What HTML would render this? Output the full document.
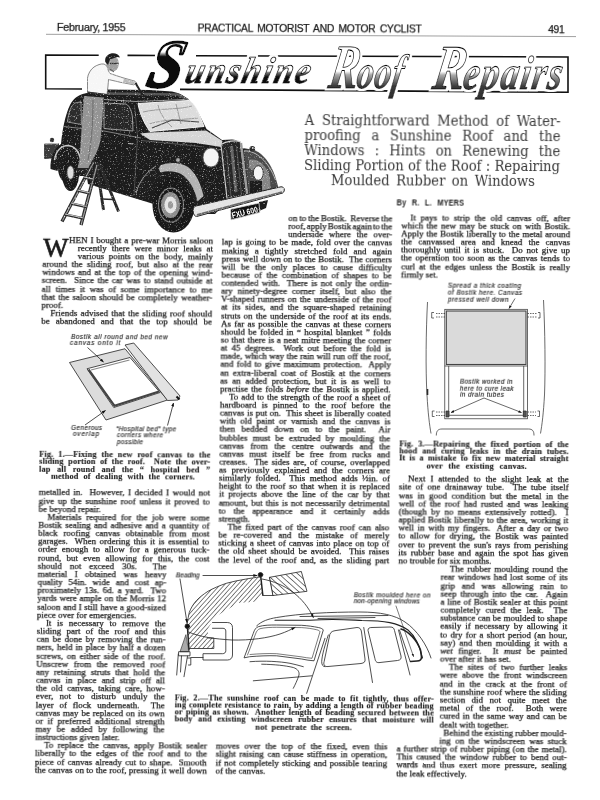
<!DOCTYPE html>
<html><head><meta charset="utf-8"><title>Sunshine Roof Repairs</title>
<style>
html,body{margin:0;padding:0;background:#fff;}
body{width:600px;height:800px;overflow:hidden;position:relative;}
#page{position:absolute;left:0;top:0;width:600px;height:800px;will-change:transform;}
.l{position:absolute;white-space:nowrap;-webkit-text-stroke:0.25px #1a1a1a;}
svg{position:absolute;left:0;top:0;overflow:visible;will-change:transform;}
</style></head><body>

<svg width="600" height="800" viewBox="0 0 600 800">
<defs>
<linearGradient id="chrome" gradientUnits="userSpaceOnUse" x1="0" y1="-33.400" x2="0" y2="8.100">
<stop offset="0" stop-color="#fff"/><stop offset="0.52" stop-color="#fff"/><stop offset="0.56" stop-color="#777"/><stop offset="0.66" stop-color="#111"/><stop offset="1" stop-color="#111"/>
</linearGradient>
<linearGradient id="chrome2" x1="0" y1="0" x2="0" y2="1">
<stop offset="0" stop-color="#fff"/><stop offset="0.57" stop-color="#fff"/><stop offset="0.62" stop-color="#aaa"/><stop offset="0.78" stop-color="#3a3a3a"/><stop offset="1" stop-color="#2a2a2a"/>
</linearGradient>
<linearGradient id="chromeS" gradientUnits="userSpaceOnUse" x1="0" y1="-56.400" x2="0" y2="18.900"><stop offset="0" stop-color="#fff"/><stop offset="0.34" stop-color="#fff"/><stop offset="0.4" stop-color="#111"/><stop offset="1" stop-color="#111"/></linearGradient>
<filter id="halo" x="-5%" y="-10%" width="110%" height="120%"><feMorphology in="SourceAlpha" operator="dilate" radius="1.500" result="d"/><feFlood flood-color="#fff"/><feComposite in2="d" operator="in" result="h"/><feMerge><feMergeNode in="h"/><feMergeNode in="SourceGraphic"/></feMerge></filter>
<pattern id="hatch" width="3.300" height="3.300" patternUnits="userSpaceOnUse" patternTransform="rotate(-48)"><rect width="3.300" height="3.300" fill="#fff"/><rect width="3.300" height="0.650" fill="#444"/></pattern>
<pattern id="hatch2" width="4.200" height="4.200" patternUnits="userSpaceOnUse" patternTransform="rotate(42)"><rect width="4.200" height="4.200" fill="#fff"/><rect width="4.200" height="0.700" fill="#444"/></pattern>
</defs>
<!-- header rule -->
<line x1="46" y1="34.3" x2="576" y2="36.6" stroke="#777" stroke-width="0.7"/>
<!-- title box -->
<path d="M98.700 55.200 L45.700 55 L45.700 88.800 L82 89 M127.500 55.400 L160 55.500 M196 55.700 L568 57 L568 92.300 L180 89.400" fill="none" stroke="#111" stroke-width="1.600"/>
<g id="title" font-family="'Liberation Serif',serif" font-style="italic" font-weight="bold" stroke-linejoin="round">
<g stroke="#111" stroke-width="1.050" filter="url(#halo)">
<text id="t2" transform="translate(183.500,82.800) skewX(-14) scale(0.900,1)" font-size="37.500"><tspan x="-42" y="4.200" font-size="68" fill="url(#chromeS)" stroke-width="2.800">S</tspan><tspan x="0" y="0" letter-spacing="2.200" fill="url(#chrome)">unshine</tspan></text>
<text id="t3" transform="translate(327,87.500) skewX(-10) scale(0.700,1)" fill="url(#chrome2)"><tspan font-size="63">R</tspan><tspan font-size="48" dx="-2" letter-spacing="1">oof</tspan></text>
<text id="t4" transform="translate(431,88.500) skewX(-10) scale(0.750,1)" fill="url(#chrome2)"><tspan font-size="64">R</tspan><tspan font-size="48" dx="-2" letter-spacing="2.300">epairs</tspan></text>
</g>
</g>
</svg>
<svg width="600" height="800" viewBox="0 0 600 800">
<defs><filter id="grain" x="0" y="0" width="100%" height="100%" color-interpolation-filters="sRGB">
<feTurbulence type="fractalNoise" baseFrequency="0.85" numOctaves="2" seed="7" result="n"/>
<feColorMatrix in="n" type="matrix" values="0 0 0 0 1  0 0 0 0 1  0 0 0 0 1  0 0 0 2.6 -1.56" result="sp"/>
<feComposite in="sp" in2="SourceAlpha" operator="in" result="s2"/>
<feMerge><feMergeNode in="SourceGraphic"/><feMergeNode in="s2"/></feMerge>
</filter></defs>
<g id="car" filter="url(#grain)">
<!-- trunk box -->
<path d="M44.6 144 L58.5 143.5 L58.5 157.5 L44.6 158.5 Z" fill="#3c3c3c" stroke="#222" stroke-width="0.8"/>
<path d="M44.6 144 L58.5 143.5" stroke="#ccc" stroke-width="1"/>
<circle cx="52" cy="140" r="2.2" fill="#333"/>
<!-- rear wheel -->
<ellipse cx="69.500" cy="168" rx="11.500" ry="16" fill="#1c1c1c"/>
<ellipse cx="70.5" cy="174" rx="8.5" ry="17" fill="#1a1a1a"/>
<ellipse cx="70.5" cy="172.5" rx="3.3" ry="6.6" fill="#ddd" stroke="#777" stroke-width="0.8"/>
<!-- main body -->
<path d="M51 166 C51 158 55 148 61 144 C62 132 65 115 70 105 C74 97 80 94 87 93 L100 90.5 L106 89.5 L150 90 L172 91.5 C180 93 186 97 190 101 C194 105 196 108 198 112 L206.500 129 L222 140 L232 139.500 C238 140 241 143 242 148 L252 149.500 C262 153 270 164 274 176 L278 188 L246 196 L228 200 L215 214 L165 214 L152 203.500 L134 198 L88 184 C86 170 82 158 74 150 C66 146 58 154 56 166 Z" fill="#1c1c1c"/>
<!-- rear fender -->
<path d="M50.500 169 C50 158 54 148 61 144.500 C68 142 76 144 80 151 C83 157 85 166 85.500 176 L80 176 C80 166 77 157 71 155 C64 154 59 162 57.500 171 Z" fill="#1c1c1c"/>
<!-- rear fender highlight -->
<path d="M54.5 160 C56 150 62 145.500 68 145.500 C75 146 79 152 81 160" fill="none" stroke="#c8c8c8" stroke-width="1.5"/>
<!-- roof gutter highlight -->
<path d="M104 99.5 L136 101.5 L186 99.500" fill="none" stroke="#999" stroke-width="1"/>
<path d="M105 93.5 L178 94.500 L188 100" fill="none" stroke="#555" stroke-width="2.5"/>
<!-- rear quarter window -->
<path d="M67.500 122 C68.500 112 71 105.500 75 103 L81 101.700 L81.500 124.500 Z" fill="#2c2c2c" stroke="#9a9a9a" stroke-width="0.9"/>
<!-- door window -->
<path d="M104 103 L126 104 C130 106 132 112 132.500 118 L133 131 L104 128.500 Z" fill="#262626" stroke="#aaa" stroke-width="0.9"/>
<!-- belt line -->
<path d="M64 126.500 L104 131 L141 138" fill="none" stroke="#8a8a8a" stroke-width="0.9"/>
<path d="M128 143.500 L133 144" stroke="#bbb" stroke-width="1.2"/>
<path d="M134.500 105 L137.500 136 L134 196" fill="none" stroke="#555" stroke-width="0.8"/>
<!-- windscreen -->
<path d="M138 103.500 L189 100.500 C193 102.500 196 107 198.500 113 L204 126.500 L150 131.500 C144 123 139.500 113 138 103.500 Z" fill="#dcdcdc" stroke="#f4f4f4" stroke-width="1"/>
<path d="M143 112 C160 108 178 110 192 106 M149 124 C165 119 182 120 198 118 M158 105 C160 114 166 122 172 127 M176 104 L181 124" stroke="#8a8a8a" stroke-width="0.8" fill="none"/>
<path d="M152 128 L172 120 L199 122" stroke="#444" stroke-width="1.2" fill="none"/>
<!-- bonnet highlight -->
<path d="M140 133.500 L150 132.500 L206 130.500 L222.500 141 L221 147 L196 143 L150 140 Z" fill="#d6d6d6"/>
<path d="M141 140.500 L196 146 L221 150" stroke="#666" stroke-width="0.8" fill="none"/>
<!-- grille -->
<path d="M221 144.500 C226 141 236 140 240.300 141.700 L247 195 L227 198.500 Z" fill="#262626" stroke="#cfcfcf" stroke-width="1.100"/>
<path d="M241 143 L247.200 194.500" stroke="#9a9a9a" stroke-width="2.400" fill="none"/>
<path d="M231.500 146 L236 192" stroke="#666" stroke-width="3" fill="none"/>
<path d="M226.500 150 L231 197 M236.500 146 L241.500 195" stroke="#777" stroke-width="0.600" fill="none"/>
<!-- left headlamp (viewer) -->
<path d="M199 150 C201 146 206 145 209 147 L209 167 C204 167 200 160 199 150 Z" fill="#222"/>
<ellipse cx="211" cy="157.500" rx="8" ry="9.500" fill="#f4f4f4" stroke="#555" stroke-width="0.8"/>
<!-- right fender -->
<path d="M243.700 150 C250 148 256 150 261 154 C268 160 273 169 276 179 L278.500 188 L262 192 L249 195 Z" fill="#4a4a4a"/>
<path d="M249 160 C256 158 264 163 268 172 C270 178 271 184 270 189 L262 191 C262 182 258 172 249 168 Z" fill="#858585"/>
<path d="M250 181 L262 181 L262 192 L250 195 Z" fill="#1c1c1c"/>
<path d="M244 151 C256 150 269 162 275.500 180" fill="none" stroke="#bbb" stroke-width="1"/>
<ellipse cx="258.300" cy="173" rx="5" ry="7.300" fill="#f4f4f4" stroke="#333" stroke-width="1"/>
<circle cx="252.300" cy="148.800" r="2.800" fill="#2a2a2a"/>
<circle cx="252.800" cy="148" r="0.900" fill="#ddd"/>
<!-- front wheel -->
<ellipse cx="173.500" cy="205" rx="21" ry="27.500" fill="#181818"/>
<ellipse cx="171" cy="205" rx="12.500" ry="17" fill="none" stroke="#777" stroke-width="1.2"/>
<ellipse cx="170.500" cy="205" rx="9.500" ry="13" fill="#8c8c8c"/>
<ellipse cx="170.500" cy="205" rx="6" ry="8.500" fill="#e4e4e4"/>
<ellipse cx="170.500" cy="205" rx="2.600" ry="3.800" fill="#999"/>
<!-- front fender -->
<path d="M133.750 197.500 C136 187 142 175 152.500 167.500 C160 162 172 160 182.500 162.500 C192 166 200 176 205 190 L210 203 L196 209 C194 196 188 184 178 178 C168 174 158 178 152 186 C148 192 146 198 145.500 201 Z" fill="#1e1e1e"/>
<path d="M161 165 C170 161.500 181 162.500 188 167 C196 173 201 184 203.500 196 L197.500 201.500 C195 189 189 179 181 174 C175 171 167 170.500 161 172.500 C158.500 170.500 158.500 167 161 165 Z" fill="#b4b4b4"/>
<path d="M136 193 C139 182 146 172 156 166" fill="none" stroke="#999" stroke-width="1"/>
<circle cx="178" cy="160" r="2.200" fill="#aaa" stroke="#333" stroke-width="0.6"/>
<!-- bumper -->
<path d="M195 206.200 L281 186.800 C284.500 186.500 285.500 191 282.700 193 L197 216.400 C192.500 217 192 207.500 195 206.200 Z" fill="#e4e4e4" stroke="#222" stroke-width="1"/>
<path d="M197 214.800 L282 192" stroke="#6a6a6a" stroke-width="1.800"/>
<!-- number plate -->
<path d="M259 202 L268 200 L266 208 L259 211 Z" fill="#1c1c1c"/>
<path d="M230.300 209.300 L259 203 L259.800 212.500 L231 219.900 Z" fill="#111" stroke="#e0e0e0" stroke-width="0.800"/>
<text x="232.500" y="218.300" font-family="'Liberation Sans',sans-serif" font-weight="bold" font-size="8.200" fill="#fff" transform="rotate(-13.500 232.500 218.300)" textLength="26.500" lengthAdjust="spacingAndGlyphs">FXU 600</text>
<!-- man: trousers -->
<path d="M84 96 L103.500 97.500 C103 112 102 128 100.500 140 C99 148 96 154 93.500 158 L92 170 L77 170 L79.500 160 C81 140 82 118 84 96 Z" fill="#949494"/>
<path d="M93 100 C93 120 92 140 88 160" stroke="#666" stroke-width="0.9" fill="none"/>
<path d="M76 168 L92 168 L93 173 L76 173 Z" fill="#222"/>
<!-- shirt -->
<path d="M87.500 92 L87.500 78 C88 74 90.500 69.500 94 67 C97 65 101 63.500 104 64 L107 66 L108.500 71 L110 73.500 L122 77.500 L135 81.200 L136.800 83.500 L133.700 84.800 L120 82.200 L108.500 79.500 L108 86 L107 94.600 Z" fill="#f6f6f6" stroke="#555" stroke-width="0.700"/>
<path d="M87.500 92.300 L107 94.800" stroke="#333" stroke-width="1.600"/>
<path d="M124 78.500 L135 81.500 L134 84.500 L123 82.500 Z" fill="#bbb"/>
<!-- head -->
<ellipse cx="112.500" cy="63.500" rx="6.300" ry="8" fill="#a0a0a0"/>
<path d="M105.300 62 C103.500 53 117 50 120 57.500 L117 57 L110 59.500 L108 65 Z" fill="#1e1e1e"/>
<path d="M110 63.500 L118.500 63.500" stroke="#333" stroke-width="1.300"/>
<path d="M110 69 L114 72" stroke="#555" stroke-width="1"/>
<!-- brush -->
<path d="M135.500 83 L142.500 95" stroke="#222" stroke-width="2"/><circle cx="142.500" cy="95" r="1.800" fill="#222"/>
<!-- ladder -->
<g fill="none">
<path d="M99 163 L118.500 211.500 M96.500 163 L103.500 210" stroke="#2a2a2a" stroke-width="2.900"/>
<path d="M99 186.500 L108.500 187 M101.500 199 L113.500 199.500" stroke="#2a2a2a" stroke-width="1.500"/>
<path d="M94 160.500 L62 221.500 M97.500 162.500 L81 225" stroke="#2a2a2a" stroke-width="3.400"/>
<path d="M93.700 162.500 L62.500 220.500 M97 165 L81.300 224" stroke="#9a9a9a" stroke-width="1.100"/>
<path d="M84 177.500 L93 179.500 M77.500 190.500 L90 193.500 M71 203.500 L86.500 207 M65 214.500 L83.500 218.500" stroke="#2a2a2a" stroke-width="2.800"/>
<path d="M84 177 L93 179 M77.500 190 L90 193 M71 203 L86.500 206.500 M65 214 L83.500 218" stroke="#c4c4c4" stroke-width="1.100"/>
</g>
</g>
</svg>
<svg width="600" height="800" viewBox="0 0 600 800">
<defs>
<marker id="ah" viewBox="0 0 10 10" refX="9" refY="5" markerWidth="5" markerHeight="5" orient="auto-start-reverse"><path d="M0 1.500 L10 5 L0 8.500 Z" fill="#111"/></marker>
</defs>
<!-- ===== FIG 1 ===== -->
<g id="fig1" stroke="#222" stroke-width="0.8" fill="none" stroke-linejoin="round">
<path d="M69.500 362.500 L125 348.750 L167.500 400 L106 420 Z" fill="#dcdcdc"/>
<path d="M125 345 L133.750 343 L180 396 L178 400 L167.500 400.500 Z" fill="#e2e2e2"/>
<path d="M87 368.750 L130 357.500 L160 392.500 L113.750 407.500 Z" fill="#fff"/>
<path d="M88.500 369.500 L114.500 405.800 L159 391.500" stroke="#444" stroke-width="2.200"/>
<path d="M91 370 L129.500 360" stroke="#888" stroke-width="1.200"/>
<path d="M176.500 396.500 L179.500 399.500" stroke="#111" stroke-width="2"/>
<path d="M87.500 347.500 L103.500 362" marker-end="url(#ah)"/>
<path d="M85 425 L105.500 410.500" marker-end="url(#ah)"/>
<path d="M167.500 425.500 L173.500 403" marker-end="url(#ah)"/>
</g>
<!-- ===== FIG 3 ===== -->
<g id="fig3" stroke="#2a2a2a" stroke-width="0.700" fill="none">
<path d="M427.500 302 C426 330 425.500 370 427 395 C428 413 429.500 425 431 433.500"/>
<path d="M543.500 300 C545 330 545.500 370 544.500 395 C543.500 413 542 425 540.500 433.500"/>
<rect x="444.800" y="309.300" width="82.700" height="109.500"/>
<rect x="446.300" y="311" width="79.700" height="53.500" fill="#dadada" stroke="#444" stroke-width="1.100"/>
<path d="M444.800 366 L527.500 366 M448.700 366 L448.700 415 M523.700 366 L523.700 415 M446.500 415.300 L526 415.300"/>
<path d="M445 313.500 L436 313.500 M445 317 L436 317 M527.500 313.500 L536.500 313.500 M527.500 317 L536.500 317 M445 412 L436 412 M445 415.500 L436 415.500 M527.500 412 L536 412 M527.500 415.500 L536 415.500" stroke-dasharray="1.500 1"/>
<path d="M434 312.500 L431.700 312.500 L431.700 318 L434 318 M538 312.500 L540 312.500 L540 318 L538 318 M434.500 411 L432.300 411 L432.300 416.500 L434.500 416.500 M537.500 411 L539.500 411 L539.500 416.500 L537.500 416.500"/>
<path d="M446 411 L449 411 L449 417 L446 417 Z M523.300 411 L526.300 411 L526.300 417 L523.300 417 Z" fill="#555"/>
<path d="M436.300 435.500 C436.300 431 438 429 442 429 L528.500 429 C532.500 429 534 431 534 435.500"/>
<path d="M515 298.500 L509 308.500" marker-end="url(#ah)"/>
<path d="M484 398 L451 412.500" marker-end="url(#ah)"/>
<path d="M484 398 L521.500 412.500" marker-end="url(#ah)"/>
<path d="M427.500 389 L427.500 395" stroke-width="1.600"/>
</g>
<!-- ===== FIG 2 ===== -->
<g id="fig2" stroke="#222" stroke-width="0.800" fill="none" stroke-linecap="round">
<!-- hatched roof section -->
<path d="M187 624 C188 619 188.500 616 189.300 612.300 C191 608 193 604.500 196.300 600.700 C200 597 203 594.500 208 591.300 C213 588.500 219 585.800 226.700 583.200 C233 581.500 239 580.200 245.300 579.200 C250 578.300 255 577.500 260.300 576.900 L262.800 595.500 L254.700 601.800 L238.300 603 L226.700 610 L215 617 L208 628.700 L208 638 L213.800 638 L213.800 648.500 L189.300 648.500 Z" fill="url(#hatch)" stroke="none"/>
<path d="M187 624 C188 619 188.500 616 189.300 612.300 C191 608 193 604.500 196.300 600.700 C200 597 203 594.500 208 591.300 C213 588.500 219 585.800 226.700 583.200 C233 581.500 239 580.200 245.300 579.200 C250 578.300 255 577.500 260.300 576.900"/>
<path d="M208 638 L213.800 638 L213.800 648.500 L189.300 648.500"/>
<path d="M262.800 595.500 L273.300 595.500 L269.800 577.300"/>
<path d="M269.800 577.300 L301.300 571.500 L307 591.300 L273.300 595.500 Z" fill="url(#hatch2)"/>
<circle cx="260.500" cy="574.800" r="2.300" fill="#111"/>
<path d="M260.800 577 L262.800 595" stroke-width="1.500"/>
<circle cx="187.300" cy="626.300" r="2.300" fill="#111"/>
<path d="M187.500 628 L189 650" stroke-width="1.500"/>
<path d="M185.800 635 L180 651.700 L188.300 651.700 Z" fill="#aaa" stroke-width="0.600"/>
<path d="M179 651.700 L190 651.700 L190 655.800 L179 655.800 Z M178.300 654 L176.700 675 M181.500 656 L180.500 672 M187.500 656 L184 676.700 M187.500 658 L190.800 658 L190.800 665 L188.500 665 M190.800 657.500 L203 657.500"/>
<!-- gutter channel -->
<path d="M212.500 622.500 L227.300 622.500 C230.500 622.500 232.500 624.500 232.500 627.500 L232.500 655 C232.500 658 230.500 660 227.500 660 L203 660 L203 653.700 L222.500 653.700 C224.500 653.700 225.800 652.500 225.800 650.800 L225.800 631 C225.800 629.300 224.700 628.300 223 628.300 L212.500 628.300"/>
<!-- arrows -->
<path d="M203 575.500 L257 575.500" marker-end="url(#ah)"/>
<path d="M180 579 L187 622.500" marker-end="url(#ah)"/>
<path d="M188.500 632 C200 637 215 639 232 640 C250 640.500 268 638 280 634 C286 632 291 629.500 295 627.500" marker-end="url(#ah)"/>
<path d="M262 579 C285 583 304 597 313.300 617.500" marker-end="url(#ah)"/>
<path d="M396 606 L413.500 656.500" marker-end="url(#ah)" stroke-width="0.600"/>
<!-- car sketch -->
<path d="M256.700 625.800 C262 621 268 619 276.700 617.500 C300 613.500 330 612 360 612 C380 612 395 615 405 622 C417 630 427 645 431 658"/>
<path d="M275 620.300 L310 620.300 C335 618.500 350 620 362 620.500 C385 620.500 398 623 408 630 C415 636 420 647 422.500 658" stroke-width="1.100"/>
<path d="M300 616.500 L388 615.500 M318 618.500 L375 617.500"/>
<path d="M244.200 657.500 L253.300 633.300 C254.500 629.500 256 627.500 258.300 626.700 C264 625 270 625 276.700 625 L301.700 625.300 C308 625.700 313 626.500 318.300 627.500 C321 628 323 629 323.300 630 L314 660.800 C310 660.500 306 660 301.700 659 L276.700 655.800 C268 655.500 258 656 250 656.700 Z"/>
<path d="M247.500 655 L255.500 634 C256.500 631 258 629.300 260 628.700 C265 627.500 271 627.300 276.700 627.300 L301.700 627.600 C308 628 312 628.700 316.500 629.700 C318.500 630.200 319.700 630.800 320 631.700 L312 658.300 C308 658 304.500 657.500 301 656.800 L276.700 653.700 C268 653.300 258 653.800 250 654.500" stroke-width="0.600"/>
<path d="M325 638.300 L306.700 693.300 M328.300 635 C325 645 322 655 321.700 661.700 C321.700 665 323 666.700 325 666.700"/>
<path d="M250 661.700 C265 660.500 280 661.500 290 663.300 C295 664.300 299 665.500 303.300 666.700 M261.700 664.200 C275 664.500 285 665.500 293.300 667.500 C298 669 299.500 672 299 675 C297.500 680 295 685 293.300 688.300 M253.300 680.800 L311.700 675.800"/>
<path d="M330 634 C331 631.500 333 631 336 630.500 L357 627.500 C360 627.500 361 629 361.500 632 L365 659 C365.500 662 364 663 361 663.500 L328 666.500 C325 667 323 665 324 662 Z"/>
<path d="M368 630 C368 628 369.500 627.500 372 627.500 L390 627 C393 627 394 628 394.500 630.500 L401 656 C401.500 659 400.500 660 397.500 660.500 L380 662.500 C377 663 375.500 662 375 659 Z"/>
<path d="M401 629 C408 631 417 640 420.500 650 L421.500 657 C421.500 660 420 661 417 661 L410.500 661.500" stroke-width="1.600"/>
<path d="M399.500 630 L410 661"/>
<path d="M363.750 627.500 L372.500 682.500 M398.500 630 L410 675"/>
</g>
</svg>

<div id="page" style="transform:matrix(1,0.0045,-0.0132,1,0,0);transform-origin:300px 400px">
<div class="l" style="left:51.93px;top:22.15px;font:10.8px/13px 'Liberation Sans',sans-serif;color:#1a1a1a;letter-spacing:-0.25px;word-spacing:-0.422px;">February, 1955</div>
<div class="l" style="left:192.64px;top:23.09px;font:10.3px/12px 'Liberation Sans',sans-serif;color:#1a1a1a;letter-spacing:-0.25px;word-spacing:1.844px;">PRACTICAL MOTORIST AND MOTOR CYCLIST</div>
<div class="l" style="left:543.16px;top:22.58px;font:10.4px/12px 'Liberation Sans',sans-serif;color:#1a1a1a;letter-spacing:-0.35px;">491</div>
<div class="l" style="left:301.20px;top:111.94px;font:14.0px/17px 'DejaVu Serif','Liberation Serif',serif;color:#383838;-webkit-text-stroke-width:0px;word-spacing:3.671px;transform:scaleX(0.94);transform-origin:0 0;">A Straightforward Method of Water-</div>
<div class="l" style="left:301.20px;top:126.91px;font:14.0px/17px 'DejaVu Serif','Liberation Serif',serif;color:#383838;-webkit-text-stroke-width:0px;word-spacing:6.893px;transform:scaleX(0.94);transform-origin:0 0;">proofing a Sunshine Roof and the</div>
<div class="l" style="left:301.20px;top:141.88px;font:14.0px/17px 'DejaVu Serif','Liberation Serif',serif;color:#383838;-webkit-text-stroke-width:0px;word-spacing:6.343px;transform:scaleX(0.94);transform-origin:0 0;">Windows : Hints on Renewing the</div>
<div class="l" style="left:301.20px;top:156.85px;font:14.0px/17px 'DejaVu Serif','Liberation Serif',serif;color:#383838;-webkit-text-stroke-width:0px;word-spacing:0.091px;transform:scaleX(0.94);transform-origin:0 0;">Sliding Portion of the Roof : Repairing</div>
<div class="l" style="left:327.70px;top:171.82px;font:14.0px/17px 'DejaVu Serif','Liberation Serif',serif;color:#383838;-webkit-text-stroke-width:0px;word-spacing:2.366px;transform:scaleX(0.94);transform-origin:0 0;">Moulded Rubber on Windows</div>
<div class="l" style="left:394.13px;top:197.39px;font:bold 8.3px/10px 'Liberation Sans',sans-serif;color:#1a1a1a;-webkit-text-stroke-width:0px;letter-spacing:0.2px;word-spacing:3.735px;transform:scaleX(0.88);transform-origin:0 0;">By R. L. MYERS</div>
<div class="l" style="left:41.21px;top:232.92px;font:26.6px/32px 'Liberation Serif',serif;color:#1a1a1a;-webkit-text-stroke-width:0.7px;">W</div>
<div class="l" style="left:66.97px;top:235.86px;font:9.0px/11px 'Liberation Serif',serif;color:#1a1a1a;word-spacing:0.679px;">HEN I bought a pre-war Morris saloon</div>
<div class="l" style="left:75.84px;top:243.99px;font:9.0px/11px 'Liberation Serif',serif;color:#1a1a1a;word-spacing:2.596px;">recently there were minor leaks at</div>
<div class="l" style="left:75.83px;top:252.11px;font:9.0px/11px 'Liberation Serif',serif;color:#1a1a1a;word-spacing:2.159px;">various points on the body, mainly</div>
<div class="l" style="left:40.40px;top:260.24px;font:9.0px/11px 'Liberation Serif',serif;color:#1a1a1a;word-spacing:2.178px;">around the sliding roof, but also at the rear</div>
<div class="l" style="left:40.38px;top:268.36px;font:9.0px/11px 'Liberation Serif',serif;color:#1a1a1a;word-spacing:1.210px;">windows and at the top of the opening wind-</div>
<div class="l" style="left:40.37px;top:276.49px;font:9.0px/11px 'Liberation Serif',serif;color:#1a1a1a;word-spacing:1.193px;">screen.  Since the car was to stand outside at</div>
<div class="l" style="left:40.36px;top:284.61px;font:9.0px/11px 'Liberation Serif',serif;color:#1a1a1a;word-spacing:2.530px;">all times it was of some importance to me</div>
<div class="l" style="left:40.35px;top:292.74px;font:9.0px/11px 'Liberation Serif',serif;color:#1a1a1a;word-spacing:0.909px;">that the saloon should be completely weather-</div>
<div class="l" style="left:40.34px;top:300.86px;font:9.0px/11px 'Liberation Serif',serif;color:#1a1a1a;">proof.</div>
<div class="l" style="left:49.31px;top:308.99px;font:9.0px/11px 'Liberation Serif',serif;color:#1a1a1a;word-spacing:0.967px;">Friends advised that the sliding roof should</div>
<div class="l" style="left:40.31px;top:317.11px;font:9.0px/11px 'Liberation Serif',serif;color:#1a1a1a;word-spacing:3.726px;">be abandoned and that the top should be</div>
<div class="l" style="left:40.11px;top:451.30px;font:bold 8.3px/10px 'Liberation Serif',serif;color:#1a1a1a;-webkit-text-stroke-width:0.12px;letter-spacing:0.15px;word-spacing:2.556px;">Fig. 1.—Fixing the new roof canvas to the</div>
<div class="l" style="left:40.10px;top:458.43px;font:bold 8.3px/10px 'Liberation Serif',serif;color:#1a1a1a;-webkit-text-stroke-width:0.12px;letter-spacing:0.15px;word-spacing:2.222px;">sliding portion of the roof.  Note the over-</div>
<div class="l" style="left:40.09px;top:465.56px;font:bold 8.3px/10px 'Liberation Serif',serif;color:#1a1a1a;-webkit-text-stroke-width:0.12px;letter-spacing:0.15px;word-spacing:4.222px;">lap all round and the “ hospital bed ”</div>
<div class="l" style="left:51.89px;top:472.69px;font:bold 8.3px/10px 'Liberation Serif',serif;color:#1a1a1a;-webkit-text-stroke-width:0.12px;letter-spacing:0.15px;word-spacing:2.712px;">method of dealing with the corners.</div>
<div class="l" style="left:40.05px;top:488.36px;font:9.0px/11px 'Liberation Serif',serif;color:#1a1a1a;word-spacing:1.271px;">metalled in.  However, I decided I would not</div>
<div class="l" style="left:40.04px;top:496.52px;font:9.0px/11px 'Liberation Serif',serif;color:#1a1a1a;word-spacing:1.475px;">give up the sunshine roof unless it proved to</div>
<div class="l" style="left:40.03px;top:504.68px;font:9.0px/11px 'Liberation Serif',serif;color:#1a1a1a;">be beyond repair.</div>
<div class="l" style="left:49.04px;top:512.84px;font:9.0px/11px 'Liberation Serif',serif;color:#1a1a1a;word-spacing:2.560px;">Materials required for the job were some</div>
<div class="l" style="left:40.01px;top:521.00px;font:9.0px/11px 'Liberation Serif',serif;color:#1a1a1a;word-spacing:1.162px;">Bostik sealing and adhesive and a quantity of</div>
<div class="l" style="left:39.99px;top:529.16px;font:9.0px/11px 'Liberation Serif',serif;color:#1a1a1a;word-spacing:3.431px;">black roofing canvas obtainable from most</div>
<div class="l" style="left:39.98px;top:537.32px;font:9.0px/11px 'Liberation Serif',serif;color:#1a1a1a;word-spacing:1.229px;">garages.  When ordering this it is essential to</div>
<div class="l" style="left:39.97px;top:545.48px;font:9.0px/11px 'Liberation Serif',serif;color:#1a1a1a;word-spacing:2.530px;">order enough to allow for a generous tuck-</div>
<div class="l" style="left:39.96px;top:553.64px;font:9.0px/11px 'Liberation Serif',serif;color:#1a1a1a;word-spacing:3.029px;">round, but even allowing for this, the cost</div>
<div class="l" style="left:39.95px;top:561.80px;font:9.0px/11px 'Liberation Serif',serif;color:#1a1a1a;word-spacing:5.704px;">should not exceed 30s.  The</div>
<div class="l" style="left:39.93px;top:569.96px;font:9.0px/11px 'Liberation Serif',serif;color:#1a1a1a;word-spacing:5.223px;">material I obtained was heavy</div>
<div class="l" style="left:39.92px;top:578.12px;font:9.0px/11px 'Liberation Serif',serif;color:#1a1a1a;word-spacing:3.579px;">quality 54in. wide and cost ap-</div>
<div class="l" style="left:39.91px;top:586.28px;font:9.0px/11px 'Liberation Serif',serif;color:#1a1a1a;word-spacing:1.326px;">proximately 13s. 6d. a yard.  Two</div>
<div class="l" style="left:39.90px;top:594.44px;font:9.0px/11px 'Liberation Serif',serif;color:#1a1a1a;word-spacing:0.491px;">yards were ample on the Morris 12</div>
<div class="l" style="left:39.88px;top:602.60px;font:9.0px/11px 'Liberation Serif',serif;color:#1a1a1a;word-spacing:0.327px;">saloon and I still have a good-sized</div>
<div class="l" style="left:39.87px;top:610.76px;font:9.0px/11px 'Liberation Serif',serif;color:#1a1a1a;">piece over for emergencies.</div>
<div class="l" style="left:48.89px;top:618.92px;font:9.0px/11px 'Liberation Serif',serif;color:#1a1a1a;word-spacing:3.442px;">It is necessary to remove the</div>
<div class="l" style="left:39.85px;top:627.08px;font:9.0px/11px 'Liberation Serif',serif;color:#1a1a1a;word-spacing:2.916px;">sliding part of the roof and this</div>
<div class="l" style="left:39.84px;top:635.24px;font:9.0px/11px 'Liberation Serif',serif;color:#1a1a1a;word-spacing:1.254px;">can be done by removing the run-</div>
<div class="l" style="left:39.82px;top:643.40px;font:9.0px/11px 'Liberation Serif',serif;color:#1a1a1a;word-spacing:0.865px;">ners, held in place by half a dozen</div>
<div class="l" style="left:39.81px;top:651.56px;font:9.0px/11px 'Liberation Serif',serif;color:#1a1a1a;word-spacing:1.510px;">screws, on either side of the roof.</div>
<div class="l" style="left:39.80px;top:659.72px;font:9.0px/11px 'Liberation Serif',serif;color:#1a1a1a;word-spacing:3.269px;">Unscrew from the removed roof</div>
<div class="l" style="left:39.79px;top:667.88px;font:9.0px/11px 'Liberation Serif',serif;color:#1a1a1a;word-spacing:2.565px;">any retaining struts that hold the</div>
<div class="l" style="left:39.77px;top:676.04px;font:9.0px/11px 'Liberation Serif',serif;color:#1a1a1a;word-spacing:2.797px;">canvas in place and strip off all</div>
<div class="l" style="left:39.76px;top:684.20px;font:9.0px/11px 'Liberation Serif',serif;color:#1a1a1a;word-spacing:2.075px;">the old canvas, taking care, how-</div>
<div class="l" style="left:39.75px;top:692.36px;font:9.0px/11px 'Liberation Serif',serif;color:#1a1a1a;word-spacing:4.197px;">ever, not to disturb unduly the</div>
<div class="l" style="left:39.74px;top:700.52px;font:9.0px/11px 'Liberation Serif',serif;color:#1a1a1a;word-spacing:3.566px;">layer of flock underneath.  The</div>
<div class="l" style="left:39.73px;top:708.68px;font:9.0px/11px 'Liberation Serif',serif;color:#1a1a1a;word-spacing:0.613px;">canvas may be replaced on its own</div>
<div class="l" style="left:39.71px;top:716.84px;font:9.0px/11px 'Liberation Serif',serif;color:#1a1a1a;word-spacing:2.302px;">or if preferred additional strength</div>
<div class="l" style="left:39.70px;top:725.00px;font:9.0px/11px 'Liberation Serif',serif;color:#1a1a1a;word-spacing:3.489px;">may be added by following the</div>
<div class="l" style="left:39.69px;top:733.16px;font:9.0px/11px 'Liberation Serif',serif;color:#1a1a1a;">instructions given later.</div>
<div class="l" style="left:48.73px;top:741.32px;font:9.0px/11px 'Liberation Serif',serif;color:#1a1a1a;word-spacing:1.972px;">To replace the canvas, apply Bostik sealer</div>
<div class="l" style="left:39.66px;top:749.48px;font:9.0px/11px 'Liberation Serif',serif;color:#1a1a1a;word-spacing:2.085px;">liberally to the edges of the roof and to the</div>
<div class="l" style="left:39.65px;top:757.64px;font:9.0px/11px 'Liberation Serif',serif;color:#1a1a1a;word-spacing:0.973px;">piece of canvas already cut to shape.  Smooth</div>
<div class="l" style="left:39.64px;top:765.80px;font:9.0px/11px 'Liberation Serif',serif;color:#1a1a1a;word-spacing:0.171px;">the canvas on to the roof, pressing it well down</div>
<div class="l" style="left:286.07px;top:213.06px;font:9.0px/11px 'Liberation Serif',serif;color:#1a1a1a;word-spacing:-0.405px;">on to the Bostik.  Reverse the</div>
<div class="l" style="left:286.09px;top:221.19px;font:9.0px/11px 'Liberation Serif',serif;color:#1a1a1a;word-spacing:-1.133px;">roof, apply Bostik again to the</div>
<div class="l" style="left:286.11px;top:229.32px;font:9.0px/11px 'Liberation Serif',serif;color:#1a1a1a;word-spacing:3.434px;">underside where the over-</div>
<div class="l" style="left:219.79px;top:237.45px;font:9.0px/11px 'Liberation Serif',serif;color:#1a1a1a;word-spacing:1.024px;">lap is going to be made, fold over the canvas</div>
<div class="l" style="left:219.80px;top:245.58px;font:9.0px/11px 'Liberation Serif',serif;color:#1a1a1a;word-spacing:3.790px;">making a tightly stretched fold and again</div>
<div class="l" style="left:219.81px;top:253.71px;font:9.0px/11px 'Liberation Serif',serif;color:#1a1a1a;word-spacing:0.324px;">press well down on to the Bostik.  The corners</div>
<div class="l" style="left:219.83px;top:261.84px;font:9.0px/11px 'Liberation Serif',serif;color:#1a1a1a;word-spacing:3.172px;">will be the only places to cause difficulty</div>
<div class="l" style="left:219.84px;top:269.97px;font:9.0px/11px 'Liberation Serif',serif;color:#1a1a1a;word-spacing:2.224px;">because of the combination of shapes to be</div>
<div class="l" style="left:219.85px;top:278.10px;font:9.0px/11px 'Liberation Serif',serif;color:#1a1a1a;word-spacing:1.216px;">contended with.  There is not only the ordin-</div>
<div class="l" style="left:219.86px;top:286.23px;font:9.0px/11px 'Liberation Serif',serif;color:#1a1a1a;word-spacing:2.605px;">ary ninety-degree corner itself, but also the</div>
<div class="l" style="left:219.87px;top:294.36px;font:9.0px/11px 'Liberation Serif',serif;color:#1a1a1a;word-spacing:0.780px;">V-shaped runners on the underside of the roof</div>
<div class="l" style="left:219.88px;top:302.49px;font:9.0px/11px 'Liberation Serif',serif;color:#1a1a1a;word-spacing:2.357px;">at its sides, and the square-shaped retaining</div>
<div class="l" style="left:219.89px;top:310.62px;font:9.0px/11px 'Liberation Serif',serif;color:#1a1a1a;word-spacing:0.933px;">struts on the underside of the roof at its ends.</div>
<div class="l" style="left:219.90px;top:318.75px;font:9.0px/11px 'Liberation Serif',serif;color:#1a1a1a;word-spacing:1.056px;">As far as possible the canvas at these corners</div>
<div class="l" style="left:219.91px;top:326.88px;font:9.0px/11px 'Liberation Serif',serif;color:#1a1a1a;word-spacing:1.120px;">should be folded in “ hospital blanket ” folds</div>
<div class="l" style="left:219.92px;top:335.01px;font:9.0px/11px 'Liberation Serif',serif;color:#1a1a1a;word-spacing:0.418px;">so that there is a neat mitre meeting the corner</div>
<div class="l" style="left:219.94px;top:343.14px;font:9.0px/11px 'Liberation Serif',serif;color:#1a1a1a;word-spacing:2.155px;">at 45 degrees.  Work out before the fold is</div>
<div class="l" style="left:219.95px;top:351.27px;font:9.0px/11px 'Liberation Serif',serif;color:#1a1a1a;word-spacing:0.216px;">made, which way the rain will run off the roof,</div>
<div class="l" style="left:219.96px;top:359.40px;font:9.0px/11px 'Liberation Serif',serif;color:#1a1a1a;word-spacing:1.076px;">and fold to give maximum protection.  Apply</div>
<div class="l" style="left:219.97px;top:367.53px;font:9.0px/11px 'Liberation Serif',serif;color:#1a1a1a;word-spacing:1.764px;">an extra-liberal coat of Bostik at the corners</div>
<div class="l" style="left:219.98px;top:375.66px;font:9.0px/11px 'Liberation Serif',serif;color:#1a1a1a;word-spacing:2.399px;">as an added protection, but it is as well to</div>
<div class="l" style="left:219.99px;top:383.79px;font:9.0px/11px 'Liberation Serif',serif;color:#1a1a1a;word-spacing:0.846px;">practise the folds <i>before</i> the Bostik is applied.</div>
<div class="l" style="left:229.00px;top:391.92px;font:9.0px/11px 'Liberation Serif',serif;color:#1a1a1a;word-spacing:0.627px;">To add to the strength of the roof a sheet of</div>
<div class="l" style="left:220.01px;top:400.05px;font:9.0px/11px 'Liberation Serif',serif;color:#1a1a1a;word-spacing:2.989px;">hardboard is pinned to the roof before the</div>
<div class="l" style="left:220.02px;top:408.18px;font:9.0px/11px 'Liberation Serif',serif;color:#1a1a1a;word-spacing:0.372px;">canvas is put on.  This sheet is liberally coated</div>
<div class="l" style="left:220.03px;top:416.31px;font:9.0px/11px 'Liberation Serif',serif;color:#1a1a1a;word-spacing:2.337px;">with old paint or varnish and the canvas is</div>
<div class="l" style="left:220.04px;top:424.44px;font:9.0px/11px 'Liberation Serif',serif;color:#1a1a1a;word-spacing:4.057px;">then bedded down on to the paint.  Air</div>
<div class="l" style="left:220.06px;top:432.57px;font:9.0px/11px 'Liberation Serif',serif;color:#1a1a1a;word-spacing:2.871px;">bubbles must be extruded by moulding the</div>
<div class="l" style="left:220.07px;top:440.70px;font:9.0px/11px 'Liberation Serif',serif;color:#1a1a1a;word-spacing:4.213px;">canvas from the centre outwards and the</div>
<div class="l" style="left:220.08px;top:448.83px;font:9.0px/11px 'Liberation Serif',serif;color:#1a1a1a;word-spacing:3.222px;">canvas must itself be free from rucks and</div>
<div class="l" style="left:220.09px;top:456.96px;font:9.0px/11px 'Liberation Serif',serif;color:#1a1a1a;word-spacing:1.216px;">creases.  The sides are, of course, overlapped</div>
<div class="l" style="left:220.10px;top:465.09px;font:9.0px/11px 'Liberation Serif',serif;color:#1a1a1a;word-spacing:2.558px;">as previously explained and the corners are</div>
<div class="l" style="left:220.11px;top:473.22px;font:9.0px/11px 'Liberation Serif',serif;color:#1a1a1a;word-spacing:2.142px;">similarly folded.  This method adds ½in. of</div>
<div class="l" style="left:220.12px;top:481.35px;font:9.0px/11px 'Liberation Serif',serif;color:#1a1a1a;word-spacing:1.403px;">height to the roof so that when it is replaced</div>
<div class="l" style="left:220.13px;top:489.48px;font:9.0px/11px 'Liberation Serif',serif;color:#1a1a1a;word-spacing:2.129px;">it projects above the line of the car by that</div>
<div class="l" style="left:220.14px;top:497.61px;font:9.0px/11px 'Liberation Serif',serif;color:#1a1a1a;word-spacing:0.861px;">amount, but this is not necessarily detrimental</div>
<div class="l" style="left:220.15px;top:505.74px;font:9.0px/11px 'Liberation Serif',serif;color:#1a1a1a;word-spacing:5.495px;">to the appearance and it certainly adds</div>
<div class="l" style="left:220.16px;top:513.87px;font:9.0px/11px 'Liberation Serif',serif;color:#1a1a1a;">strength.</div>
<div class="l" style="left:229.19px;top:522.00px;font:9.0px/11px 'Liberation Serif',serif;color:#1a1a1a;word-spacing:1.562px;">The fixed part of the canvas roof can also</div>
<div class="l" style="left:220.19px;top:530.13px;font:9.0px/11px 'Liberation Serif',serif;color:#1a1a1a;word-spacing:4.339px;">be re-covered and the mistake of merely</div>
<div class="l" style="left:220.20px;top:538.26px;font:9.0px/11px 'Liberation Serif',serif;color:#1a1a1a;word-spacing:0.755px;">sticking a sheet of canvas into place on top of</div>
<div class="l" style="left:220.21px;top:546.39px;font:9.0px/11px 'Liberation Serif',serif;color:#1a1a1a;word-spacing:1.557px;">the old sheet should be avoided.  This raises</div>
<div class="l" style="left:220.22px;top:554.52px;font:9.0px/11px 'Liberation Serif',serif;color:#1a1a1a;word-spacing:1.841px;">the level of the roof and, as the sliding part</div>
<div class="l" style="left:178.67px;top:694.20px;font:bold 8.3px/10px 'Liberation Serif',serif;color:#1a1a1a;-webkit-text-stroke-width:0.12px;letter-spacing:0.15px;word-spacing:2.272px;">Fig. 2.—The sunshine roof can be made to fit tightly, thus offer-</div>
<div class="l" style="left:178.67px;top:701.28px;font:bold 8.3px/10px 'Liberation Serif',serif;color:#1a1a1a;-webkit-text-stroke-width:0.12px;letter-spacing:0.15px;word-spacing:0.487px;">ing complete resistance to rain, by adding a length of rubber beading</div>
<div class="l" style="left:178.68px;top:708.36px;font:bold 8.3px/10px 'Liberation Serif',serif;color:#1a1a1a;-webkit-text-stroke-width:0.12px;letter-spacing:0.15px;word-spacing:1.005px;">or piping as shown.  Another length of beading secured between the</div>
<div class="l" style="left:178.68px;top:715.44px;font:bold 8.3px/10px 'Liberation Serif',serif;color:#1a1a1a;-webkit-text-stroke-width:0.12px;letter-spacing:0.15px;word-spacing:3.208px;">body and existing windscreen rubber ensures that moisture will</div>
<div class="l" style="left:259.61px;top:722.52px;font:bold 8.3px/10px 'Liberation Serif',serif;color:#1a1a1a;-webkit-text-stroke-width:0.12px;letter-spacing:0.15px;word-spacing:1.933px;">not penetrate the screen.</div>
<div class="l" style="left:220.47px;top:741.18px;font:9.0px/11px 'Liberation Serif',serif;color:#1a1a1a;word-spacing:2.790px;">moves over the top of the fixed, even this</div>
<div class="l" style="left:220.48px;top:749.34px;font:9.0px/11px 'Liberation Serif',serif;color:#1a1a1a;word-spacing:1.336px;">slight raising can cause stiffness in operation,</div>
<div class="l" style="left:220.49px;top:757.50px;font:9.0px/11px 'Liberation Serif',serif;color:#1a1a1a;word-spacing:0.853px;">if not completely sticking and possible tearing</div>
<div class="l" style="left:220.50px;top:765.66px;font:9.0px/11px 'Liberation Serif',serif;color:#1a1a1a;">of the canvas.</div>
<div class="l" style="left:407.92px;top:211.86px;font:9.0px/11px 'Liberation Serif',serif;color:#1a1a1a;word-spacing:2.612px;">It pays to strip the old canvas off, after</div>
<div class="l" style="left:398.98px;top:219.97px;font:9.0px/11px 'Liberation Serif',serif;color:#1a1a1a;word-spacing:1.151px;">which the new may be stuck on with Bostik.</div>
<div class="l" style="left:399.02px;top:228.08px;font:9.0px/11px 'Liberation Serif',serif;color:#1a1a1a;word-spacing:0.463px;">Apply the Bostik liberally to the metal around</div>
<div class="l" style="left:399.05px;top:236.19px;font:9.0px/11px 'Liberation Serif',serif;color:#1a1a1a;word-spacing:3.841px;">the canvassed area and knead the canvas</div>
<div class="l" style="left:399.08px;top:244.30px;font:9.0px/11px 'Liberation Serif',serif;color:#1a1a1a;word-spacing:1.501px;">thoroughly until it is stuck.  Do not give up</div>
<div class="l" style="left:399.12px;top:252.41px;font:9.0px/11px 'Liberation Serif',serif;color:#1a1a1a;word-spacing:1.070px;">the operation too soon as the canvas tends to</div>
<div class="l" style="left:399.15px;top:260.52px;font:9.0px/11px 'Liberation Serif',serif;color:#1a1a1a;word-spacing:1.948px;">curl at the edges unless the Bostik is really</div>
<div class="l" style="left:399.19px;top:268.63px;font:9.0px/11px 'Liberation Serif',serif;color:#1a1a1a;">firmly set.</div>
<div class="l" style="left:399.90px;top:439.20px;font:bold 8.3px/10px 'Liberation Serif',serif;color:#1a1a1a;-webkit-text-stroke-width:0.12px;letter-spacing:0.15px;word-spacing:2.390px;">Fig. 3.—Repairing the fixed portion of the</div>
<div class="l" style="left:399.93px;top:446.32px;font:bold 8.3px/10px 'Liberation Serif',serif;color:#1a1a1a;-webkit-text-stroke-width:0.12px;letter-spacing:0.15px;word-spacing:2.660px;">hood and curing leaks in the drain tubes.</div>
<div class="l" style="left:399.96px;top:453.44px;font:bold 8.3px/10px 'Liberation Serif',serif;color:#1a1a1a;-webkit-text-stroke-width:0.12px;letter-spacing:0.15px;word-spacing:1.877px;">It is a mistake to fix new material straight</div>
<div class="l" style="left:427.52px;top:460.56px;font:bold 8.3px/10px 'Liberation Serif',serif;color:#1a1a1a;-webkit-text-stroke-width:0.12px;letter-spacing:0.15px;word-spacing:3.437px;">over the existing canvas.</div>
<div class="l" style="left:409.05px;top:473.16px;font:9.0px/11px 'Liberation Serif',serif;color:#1a1a1a;word-spacing:2.642px;">Next I attended to the slight leak at the</div>
<div class="l" style="left:400.08px;top:481.34px;font:9.0px/11px 'Liberation Serif',serif;color:#1a1a1a;word-spacing:2.012px;">site of one drainaway tube.  The tube itself</div>
<div class="l" style="left:400.11px;top:489.52px;font:9.0px/11px 'Liberation Serif',serif;color:#1a1a1a;word-spacing:2.272px;">was in good condition but the metal in the</div>
<div class="l" style="left:400.14px;top:497.70px;font:9.0px/11px 'Liberation Serif',serif;color:#1a1a1a;word-spacing:1.779px;">well of the roof had rusted and was leaking</div>
<div class="l" style="left:400.18px;top:505.88px;font:9.0px/11px 'Liberation Serif',serif;color:#1a1a1a;word-spacing:2.105px;">(though by no means extensively rotted).  I</div>
<div class="l" style="left:400.21px;top:514.06px;font:9.0px/11px 'Liberation Serif',serif;color:#1a1a1a;word-spacing:0.537px;">applied Bostik liberally to the area, working it</div>
<div class="l" style="left:400.25px;top:522.24px;font:9.0px/11px 'Liberation Serif',serif;color:#1a1a1a;word-spacing:1.353px;">well in with my fingers.  After a day or two</div>
<div class="l" style="left:400.28px;top:530.42px;font:9.0px/11px 'Liberation Serif',serif;color:#1a1a1a;word-spacing:2.255px;">to allow for drying, the Bostik was painted</div>
<div class="l" style="left:400.32px;top:538.60px;font:9.0px/11px 'Liberation Serif',serif;color:#1a1a1a;word-spacing:1.350px;">over to prevent the sun's rays from perishing</div>
<div class="l" style="left:400.35px;top:546.78px;font:9.0px/11px 'Liberation Serif',serif;color:#1a1a1a;word-spacing:1.668px;">its rubber base and again the spot has given</div>
<div class="l" style="left:400.38px;top:554.96px;font:9.0px/11px 'Liberation Serif',serif;color:#1a1a1a;">no trouble for six months.</div>
<div class="l" style="left:452.06px;top:563.14px;font:9.0px/11px 'Liberation Serif',serif;color:#1a1a1a;word-spacing:1.234px;">The rubber moulding round the</div>
<div class="l" style="left:443.07px;top:571.32px;font:9.0px/11px 'Liberation Serif',serif;color:#1a1a1a;word-spacing:0.996px;">rear windows had lost some of its</div>
<div class="l" style="left:443.11px;top:579.50px;font:9.0px/11px 'Liberation Serif',serif;color:#1a1a1a;word-spacing:4.348px;">grip and was allowing rain to</div>
<div class="l" style="left:443.15px;top:587.68px;font:9.0px/11px 'Liberation Serif',serif;color:#1a1a1a;word-spacing:1.710px;">seep through into the car.  Again</div>
<div class="l" style="left:443.19px;top:595.86px;font:9.0px/11px 'Liberation Serif',serif;color:#1a1a1a;word-spacing:0.539px;">a line of Bostik sealer at this point</div>
<div class="l" style="left:443.23px;top:604.04px;font:9.0px/11px 'Liberation Serif',serif;color:#1a1a1a;word-spacing:2.746px;">completely cured the leak.  The</div>
<div class="l" style="left:443.27px;top:612.22px;font:9.0px/11px 'Liberation Serif',serif;color:#1a1a1a;word-spacing:0.165px;">substance can be moulded to shape</div>
<div class="l" style="left:443.31px;top:620.40px;font:9.0px/11px 'Liberation Serif',serif;color:#1a1a1a;word-spacing:1.768px;">easily if necessary by allowing it</div>
<div class="l" style="left:443.35px;top:628.58px;font:9.0px/11px 'Liberation Serif',serif;color:#1a1a1a;word-spacing:0.995px;">to dry for a short period (an hour,</div>
<div class="l" style="left:443.39px;top:636.76px;font:9.0px/11px 'Liberation Serif',serif;color:#1a1a1a;word-spacing:1.768px;">say) and then moulding it with a</div>
<div class="l" style="left:443.43px;top:644.94px;font:9.0px/11px 'Liberation Serif',serif;color:#1a1a1a;word-spacing:3.390px;"><i>wet</i> finger.  It <i>must</i> be painted</div>
<div class="l" style="left:443.47px;top:653.12px;font:9.0px/11px 'Liberation Serif',serif;color:#1a1a1a;">over after it has set.</div>
<div class="l" style="left:452.55px;top:661.30px;font:9.0px/11px 'Liberation Serif',serif;color:#1a1a1a;word-spacing:2.577px;">The sites of two further leaks</div>
<div class="l" style="left:443.55px;top:669.48px;font:9.0px/11px 'Liberation Serif',serif;color:#1a1a1a;word-spacing:2.426px;">were above the front windscreen</div>
<div class="l" style="left:443.59px;top:677.66px;font:9.0px/11px 'Liberation Serif',serif;color:#1a1a1a;word-spacing:2.638px;">and in the crack at the front of</div>
<div class="l" style="left:443.63px;top:685.84px;font:9.0px/11px 'Liberation Serif',serif;color:#1a1a1a;word-spacing:0.191px;">the sunshine roof where the sliding</div>
<div class="l" style="left:443.67px;top:694.02px;font:9.0px/11px 'Liberation Serif',serif;color:#1a1a1a;word-spacing:4.194px;">section did not quite meet the</div>
<div class="l" style="left:443.71px;top:702.20px;font:9.0px/11px 'Liberation Serif',serif;color:#1a1a1a;word-spacing:3.834px;">metal of the roof.  Both were</div>
<div class="l" style="left:443.75px;top:710.38px;font:9.0px/11px 'Liberation Serif',serif;color:#1a1a1a;word-spacing:0.862px;">cured in the same way and can be</div>
<div class="l" style="left:443.79px;top:718.56px;font:9.0px/11px 'Liberation Serif',serif;color:#1a1a1a;">dealt with together.</div>
<div class="l" style="left:447.85px;top:726.74px;font:9.0px/11px 'Liberation Serif',serif;color:#1a1a1a;word-spacing:-0.184px;">Behind the existing rubber mould-</div>
<div class="l" style="left:443.87px;top:734.92px;font:9.0px/11px 'Liberation Serif',serif;color:#1a1a1a;word-spacing:2.111px;">ing on the windscreen was stuck</div>
<div class="l" style="left:401.17px;top:743.10px;font:9.0px/11px 'Liberation Serif',serif;color:#1a1a1a;word-spacing:0.705px;">a further strip of rubber piping (on the metal).</div>
<div class="l" style="left:401.21px;top:751.28px;font:9.0px/11px 'Liberation Serif',serif;color:#1a1a1a;word-spacing:1.663px;">This caused the window rubber to bend out-</div>
<div class="l" style="left:401.24px;top:759.46px;font:9.0px/11px 'Liberation Serif',serif;color:#1a1a1a;word-spacing:2.197px;">wards and thus exert more pressure, sealing</div>
<div class="l" style="left:401.27px;top:767.64px;font:9.0px/11px 'Liberation Serif',serif;color:#1a1a1a;">the leak effectively.</div>
<div class="l" style="left:70.19px;top:333.65px;font:italic 6.3px/8px 'Liberation Sans',sans-serif;color:#111;-webkit-text-stroke-width:0.12px;letter-spacing:0.579px;">Bostik all round and bed new</div>
<div class="l" style="left:69.28px;top:340.45px;font:italic 6.3px/8px 'Liberation Sans',sans-serif;color:#111;-webkit-text-stroke-width:0.12px;letter-spacing:0.867px;">canvas  onto it</div>
<div class="l" style="left:71.40px;top:424.85px;font:italic 6.3px/8px 'Liberation Sans',sans-serif;color:#111;-webkit-text-stroke-width:0.12px;letter-spacing:0.478px;">Generous</div>
<div class="l" style="left:73.48px;top:431.34px;font:italic 6.3px/8px 'Liberation Sans',sans-serif;color:#111;-webkit-text-stroke-width:0.12px;letter-spacing:0.891px;">overlap</div>
<div class="l" style="left:116.41px;top:425.65px;font:italic 6.3px/8px 'Liberation Sans',sans-serif;color:#111;-webkit-text-stroke-width:0.12px;letter-spacing:0.397px;">“Hospital bed” type</div>
<div class="l" style="left:117.50px;top:432.44px;font:italic 6.3px/8px 'Liberation Sans',sans-serif;color:#111;-webkit-text-stroke-width:0.12px;letter-spacing:0.508px;">corners where</div>
<div class="l" style="left:117.58px;top:438.64px;font:italic 6.3px/8px 'Liberation Sans',sans-serif;color:#111;-webkit-text-stroke-width:0.12px;letter-spacing:0.413px;">possible</div>
<div class="l" style="left:446.52px;top:281.35px;font:italic 6.3px/8px 'Liberation Sans',sans-serif;color:#111;-webkit-text-stroke-width:0.12px;letter-spacing:0.509px;">Spread a thick coating</div>
<div class="l" style="left:446.61px;top:288.05px;font:italic 6.3px/8px 'Liberation Sans',sans-serif;color:#111;-webkit-text-stroke-width:0.12px;letter-spacing:0.507px;">of Bostik here. Canvas</div>
<div class="l" style="left:446.70px;top:294.65px;font:italic 6.3px/8px 'Liberation Sans',sans-serif;color:#111;-webkit-text-stroke-width:0.12px;letter-spacing:0.54px;">pressed  well down</div>
<div class="l" style="left:459.79px;top:377.00px;font:italic 6.3px/8px 'Liberation Sans',sans-serif;color:#111;-webkit-text-stroke-width:0.12px;letter-spacing:0.443px;">Bostik worked in</div>
<div class="l" style="left:459.87px;top:383.50px;font:italic 6.3px/8px 'Liberation Sans',sans-serif;color:#111;-webkit-text-stroke-width:0.12px;letter-spacing:0.412px;">here to cure leak</div>
<div class="l" style="left:459.96px;top:389.80px;font:italic 6.3px/8px 'Liberation Sans',sans-serif;color:#111;-webkit-text-stroke-width:0.12px;letter-spacing:0.476px;">in drain tubes</div>
<div class="l" style="left:178.34px;top:571.58px;font:italic 6.3px/8px 'Liberation Sans',sans-serif;color:#111;-webkit-text-stroke-width:0.12px;letter-spacing:0.065px;">Beading</div>
<div class="l" style="left:356.40px;top:590.57px;font:italic 6.3px/8px 'Liberation Sans',sans-serif;color:#111;-webkit-text-stroke-width:0.12px;letter-spacing:0.492px;">Bostik moulded here  on</div>
<div class="l" style="left:356.49px;top:597.37px;font:italic 6.3px/8px 'Liberation Sans',sans-serif;color:#111;-webkit-text-stroke-width:0.12px;letter-spacing:0.282px;">non-opening windows</div>
</div></body></html>
